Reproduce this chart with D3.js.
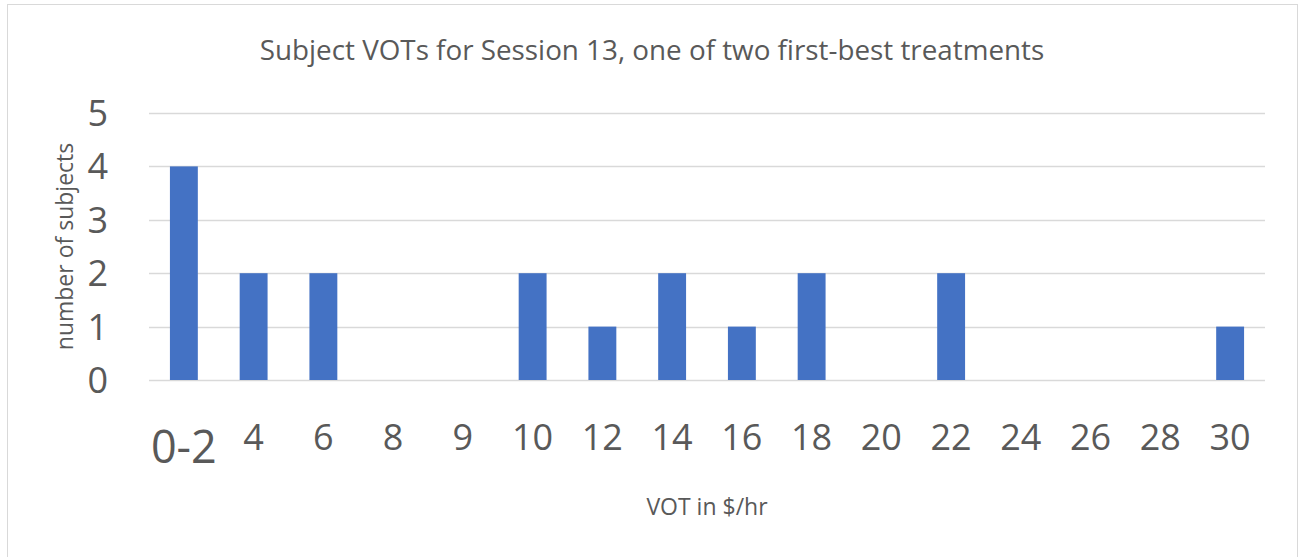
<!DOCTYPE html>
<html>
<head>
<meta charset="utf-8">
<script src="https://cdn.jsdelivr.net/npm/d3@7"></script>
<style>
  body { margin: 0; background: #fff; }
  text { font-family: "Open Sans", sans-serif; fill: #595959; }
</style>
</head>
<body>
<div id="chart"></div>
<script>
const WIDTH = 1302
const HEIGHT = 557

// Bin labels and counts
const categories = ['0-2', '4', '6', '8', '9', '10', '12', '14', '16', '18', '20', '22', '24', '26', '28', '30']
const counts = [4, 2, 2, 0, 0, 2, 1, 2, 1, 2, 0, 2, 0, 0, 0, 1]
const yTicks = [0, 1, 2, 3, 4, 5]

const TITLE = 'Subject VOTs for Session 13, one of two first-best treatments'
const X_TITLE = 'VOT in $/hr'
const Y_TITLE = 'number of subjects'

const BAR_COLOR = '#4472c4'
const GRID_COLOR = '#d9d9d9'

const plot = { left: 149, right: 1265, top: 113, bottom: 380 }

const svg = d3.select('#chart')
    .append('svg')
    .attr('width', WIDTH)
    .attr('height', HEIGHT)

// Chart frame
svg.append('rect')
    .attr('x', 7.5)
    .attr('y', 4.5)
    .attr('width', 1290)
    .attr('height', 570)
    .attr('fill', '#fff')
    .attr('stroke', GRID_COLOR)

const x = d3.scaleBand()
    .domain(categories)
    .range([plot.left, plot.right])
    .paddingInner(0.6)
    .paddingOuter(0.3)

const y = d3.scaleLinear()
    .domain([0, 5])
    .range([plot.bottom, plot.top])

// Gridlines
svg.append('g')
    .selectAll('line')
    .data(yTicks)
    .join('line')
    .attr('x1', plot.left)
    .attr('x2', plot.right)
    .attr('y1', d => Math.round(y(d)) + 0.5)
    .attr('y2', d => Math.round(y(d)) + 0.5)
    .attr('stroke', GRID_COLOR)
    .attr('stroke-width', 1.5)

// Bars
svg.append('g')
    .selectAll('rect')
    .data(categories.map((c, i) => ({ cat: c, value: counts[i] })))
    .join('rect')
    .attr('x', d => x(d.cat))
    .attr('width', x.bandwidth())
    .attr('y', d => y(d.value))
    .attr('height', d => y(0) - y(d.value))
    .attr('fill', BAR_COLOR)

// Y tick labels
svg.append('g')
    .selectAll('text')
    .data(yTicks)
    .join('text')
    .attr('x', 108)
    .attr('y', d => y(d))
    .attr('dy', '0.36em')
    .attr('text-anchor', 'end')
    .style('font-size', '36px')
    .text(d => d)

// X tick labels, the first one is drawn larger like in the original
svg.append('g')
    .selectAll('text')
    .data(categories)
    .join('text')
    .attr('x', d => x(d) + x.bandwidth() / 2)
    .attr('y', (d, i) => i === 0 ? 463 : 450)
    .attr('text-anchor', 'middle')
    .style('font-size', (d, i) => i === 0 ? '45px' : '36px')
    .text(d => d)

// Titles
svg.append('text')
    .attr('x', 652)
    .attr('y', 60)
    .attr('text-anchor', 'middle')
    .style('font-size', '27.8px')
    .text(TITLE)

svg.append('text')
    .attr('x', (plot.left + plot.right) / 2)
    .attr('y', 515)
    .attr('text-anchor', 'middle')
    .style('font-size', '23px')
    .text(X_TITLE)

svg.append('text')
    .attr('transform', `translate(73, ${(plot.top + plot.bottom) / 2}) rotate(-90)`)
    .attr('text-anchor', 'middle')
    .style('font-size', '23px')
    .text(Y_TITLE)
</script>
</body>
</html>
